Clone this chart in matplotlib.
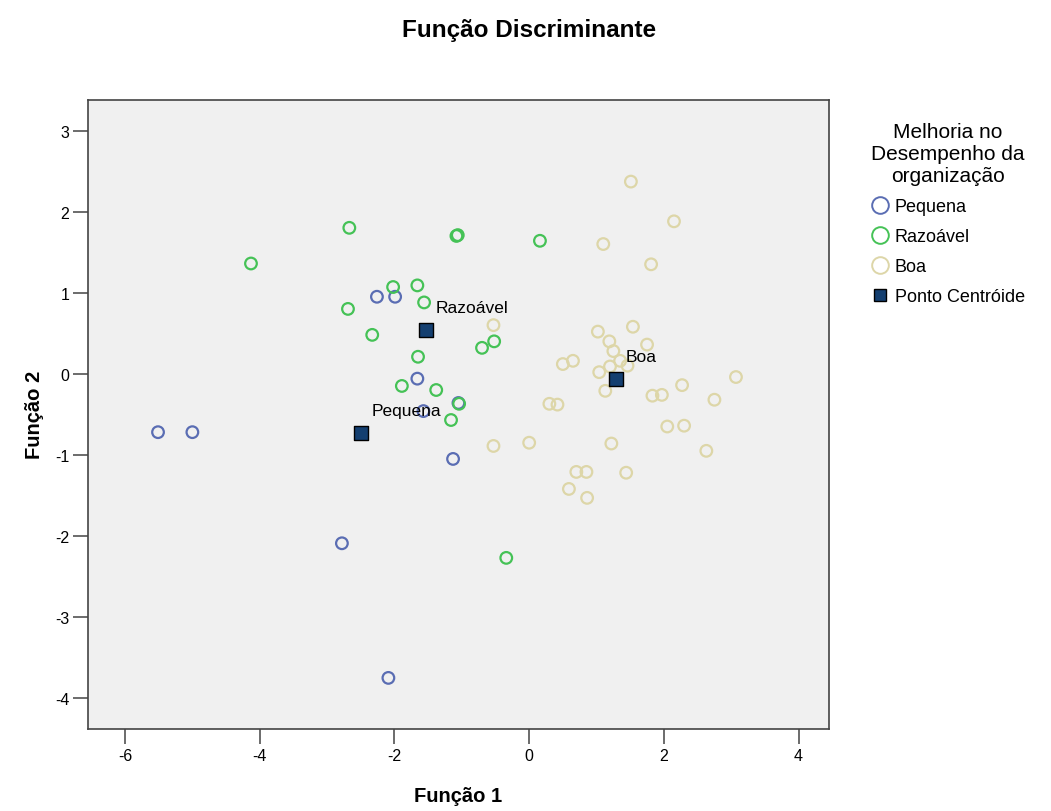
import matplotlib
matplotlib.use("Agg")
import matplotlib.pyplot as plt
from matplotlib.lines import Line2D

plt.rcParams['font.family'] = ['Liberation Sans', 'DejaVu Sans']
plt.rcParams['axes.unicode_minus'] = False

# scores nas funções discriminantes, por grupo
peq_f1 = [-5.51, -5.00, -2.26, -1.99, -1.66, -1.57, -1.05, -1.13, -2.78, -2.09]
peq_f2 = [-0.72, -0.72, 0.95, 0.95, -0.06, -0.46, -0.36, -1.05, -2.09, -3.75]

raz_f1 = [-4.13, -2.67, -1.08, -1.06, 0.16, -2.02, -1.66, -1.56, -2.69, -2.33,
          -0.70, -0.52, -1.65, -1.89, -1.38, -1.04, -1.16, -0.34]
raz_f2 = [1.36, 1.80, 1.70, 1.71, 1.64, 1.07, 1.09, 0.88, 0.80, 0.48,
          0.32, 0.40, 0.21, -0.15, -0.20, -0.37, -0.57, -2.27]

boa_f1 = [1.51, 2.15, 1.10, 1.81, 1.02, 1.54, 1.19, 1.75, 1.25, 1.35,
          1.46, 1.20, 0.50, 0.65, 1.04, 1.13, 3.07, 2.27, 2.75, 0.30,
          0.42, 1.83, 1.97, 2.05, 2.30, 0.00, -0.53, 1.22, 2.63, 0.70,
          0.85, 1.44, 0.59, 0.86, -0.53]
boa_f2 = [2.37, 1.88, 1.60, 1.35, 0.52, 0.58, 0.40, 0.36, 0.28, 0.16,
          0.10, 0.09, 0.12, 0.16, 0.02, -0.21, -0.04, -0.14, -0.32, -0.37,
          -0.38, -0.27, -0.26, -0.65, -0.64, -0.85, -0.89, -0.86, -0.95, -1.21,
          -1.21, -1.22, -1.42, -1.53, 0.60]

cent_nomes = ['Pequena', 'Razoável', 'Boa']
cent_f1 = [-2.49, -1.53, 1.29]
cent_f2 = [-0.73, 0.54, -0.06]

c_peq = '#5a6db3'
c_raz = '#45c256'
c_boa = '#ddd6a8'
c_cent = '#143f70'

fig = plt.figure(figsize=(10.51, 8.12), dpi=100)
ax = fig.add_axes([0.0837, 0.101, 0.705, 0.775])
ax.set_facecolor('#f0f0f0')

ax.scatter(peq_f1, peq_f2, s=70, facecolors='none', edgecolors=c_peq, linewidths=1.6, zorder=3)
ax.scatter(raz_f1, raz_f2, s=70, facecolors='none', edgecolors=c_raz, linewidths=1.6, zorder=3)
ax.scatter(boa_f1, boa_f2, s=70, facecolors='none', edgecolors=c_boa, linewidths=1.6, zorder=3)
ax.scatter(cent_f1, cent_f2, s=110, marker='s', facecolors=c_cent, edgecolors='black',
           linewidths=1.0, zorder=4)

for nome, x, y in zip(cent_nomes, cent_f1, cent_f2):
    ax.annotate(nome, (x, y), xytext=(7, 16), textcoords='offset points',
                fontsize=12.5, va='center', ha='left', zorder=5)

ax.set_xlim(-6.55, 4.45)
ax.set_ylim(-4.38, 3.38)
ax.set_xticks([-6, -4, -2, 0, 2, 4])
ax.set_yticks([-4, -3, -2, -1, 0, 1, 2, 3])
ax.tick_params(direction='out', length=10.5, width=1.1, color='#444444',
               labelsize=11.5, pad=3, top=False, right=False)
for sp in ax.spines.values():
    sp.set_color('#444444')
    sp.set_linewidth(1.2)

ax.set_xlabel('Função 1', fontsize=14.5, fontweight='bold', labelpad=17)
ax.set_ylabel('Função 2', fontsize=14.5, fontweight='bold', labelpad=8)
fig.suptitle('Função Discriminante', fontsize=17.5, fontweight='bold', x=0.503, y=0.977)

# legenda
handles = [
    Line2D([0], [0], marker='o', ls='none', markersize=12, markerfacecolor='none',
           markeredgecolor=c_peq, markeredgewidth=1.4),
    Line2D([0], [0], marker='o', ls='none', markersize=12, markerfacecolor='none',
           markeredgecolor=c_raz, markeredgewidth=1.4),
    Line2D([0], [0], marker='o', ls='none', markersize=12, markerfacecolor='none',
           markeredgecolor=c_boa, markeredgewidth=1.4),
    Line2D([0], [0], marker='s', ls='none', markersize=9, markerfacecolor=c_cent,
           markeredgecolor='black', markeredgewidth=1.0),
]
leg = fig.legend(handles, ['Pequena', 'Razoável', 'Boa', 'Ponto Centróide'],
                 title='Melhoria no\nDesempenho da\norganização',
                 loc='upper left', bbox_to_anchor=(0.829, 0.848), frameon=False,
                 fontsize=13, title_fontsize=15, handlelength=1.0, handletextpad=0.3,
                 labelspacing=0.72, borderpad=0, borderaxespad=0)
leg.get_title().set_multialignment('center')

fig.savefig('out.png', dpi=100)
